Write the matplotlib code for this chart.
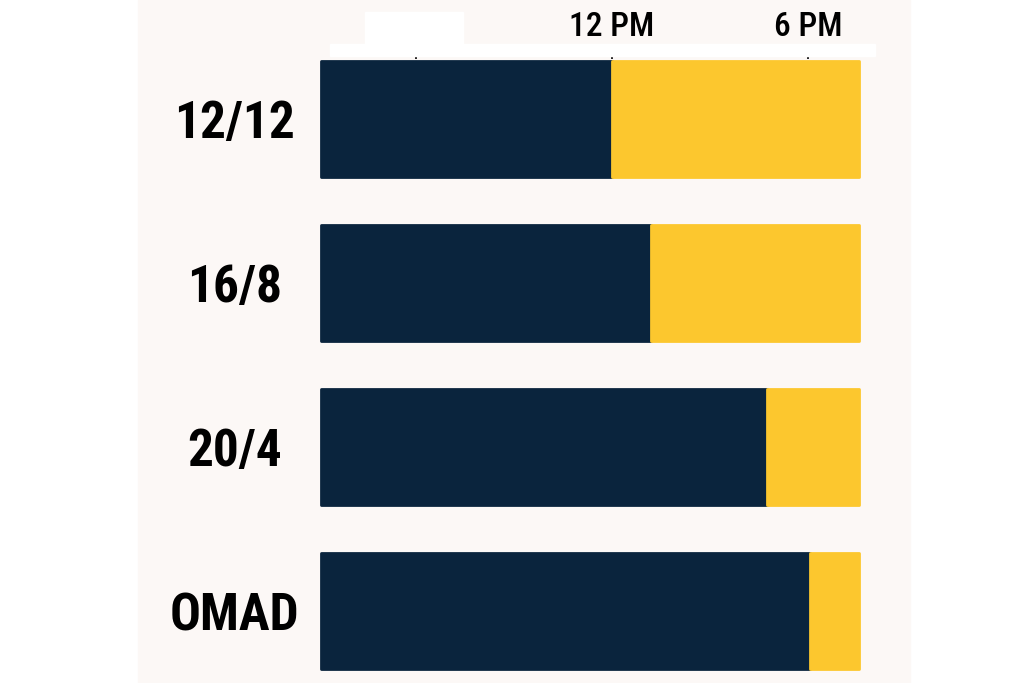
import matplotlib
matplotlib.use("Agg")
import matplotlib.pyplot as plt
from matplotlib import font_manager as fm
from matplotlib.patches import Rectangle

# Data (hours of day on a 24h clock)
plans = ["12/12", "16/8", "20/4", "OMAD"]
window_start = [3.1, 3.1, 3.1, 3.1]       # fasting bar begins
fast_end = [12.0, 13.2, 16.75, 18.05]     # fasting ends / eating begins
eat_end = [19.55, 19.55, 19.55, 19.55]    # eating window ends
tick_hours = [6, 12, 18]
tick_labels = ["", "12 PM", "6 PM"]

NAVY = "#0a243d"
YELLOW = "#fcc72e"
PANEL = "#fcf8f6"

names = {f.name for f in fm.fontManager.ttflist}
fam = "Roboto"
for cand in ["Roboto Condensed", "Liberation Sans Narrow", "Roboto"]:
    if cand in names:
        fam = cand
        break

fig = plt.figure(figsize=(10.24, 6.83), dpi=100)
fig.patch.set_facecolor("white")
fig.add_artist(Rectangle((138 / 1024, 0), (910 - 138) / 1024, 1,
                         transform=fig.transFigure, color=PANEL, zorder=0))

ax = fig.add_axes([300 / 1024, 0, 580 / 1024, (683 - 55) / 683])
ax.set_facecolor("none")
ypos = list(range(len(plans)))
fast_w = [f - s for f, s in zip(fast_end, window_start)]
eat_w = [e - f for e, f in zip(eat_end, fast_end)]
ax.barh(ypos, fast_w, left=window_start, height=0.705, color=NAVY,
        edgecolor=NAVY, linewidth=2, joinstyle="round", zorder=2)
ax.barh(ypos, eat_w, left=fast_end, height=0.705, color=YELLOW,
        edgecolor=YELLOW, linewidth=2, joinstyle="round", zorder=2)

ax.set_xlim(2.45, 20.2)
ax.set_ylim(3.44, -0.39)
ax.xaxis.tick_top()
ax.set_xticks(tick_hours)
ax.set_xticklabels(tick_labels, fontsize=24, fontfamily=fam, fontweight="medium")
ax.tick_params(axis="x", direction="in", length=3, width=1.2, pad=9, colors="black")
ax.set_yticks(ypos)
ax.set_yticklabels(plans, fontsize=37, fontfamily=fam, fontweight="bold", ha="center")
ax.tick_params(axis="y", length=0, pad=47)
for s in ax.spines.values():
    s.set_visible(False)

# white strip under the time labels
fig.add_artist(Rectangle((330 / 1024, 1 - 56 / 683), (875 - 330) / 1024, 12 / 683,
                         transform=fig.transFigure, color="white", zorder=1))
fig.add_artist(Rectangle((365 / 1024, 1 - 45 / 683), (463 - 365) / 1024, 33 / 683,
                         transform=fig.transFigure, color="white", zorder=1))

fig.savefig("out.png", dpi=100, facecolor=fig.get_facecolor())
